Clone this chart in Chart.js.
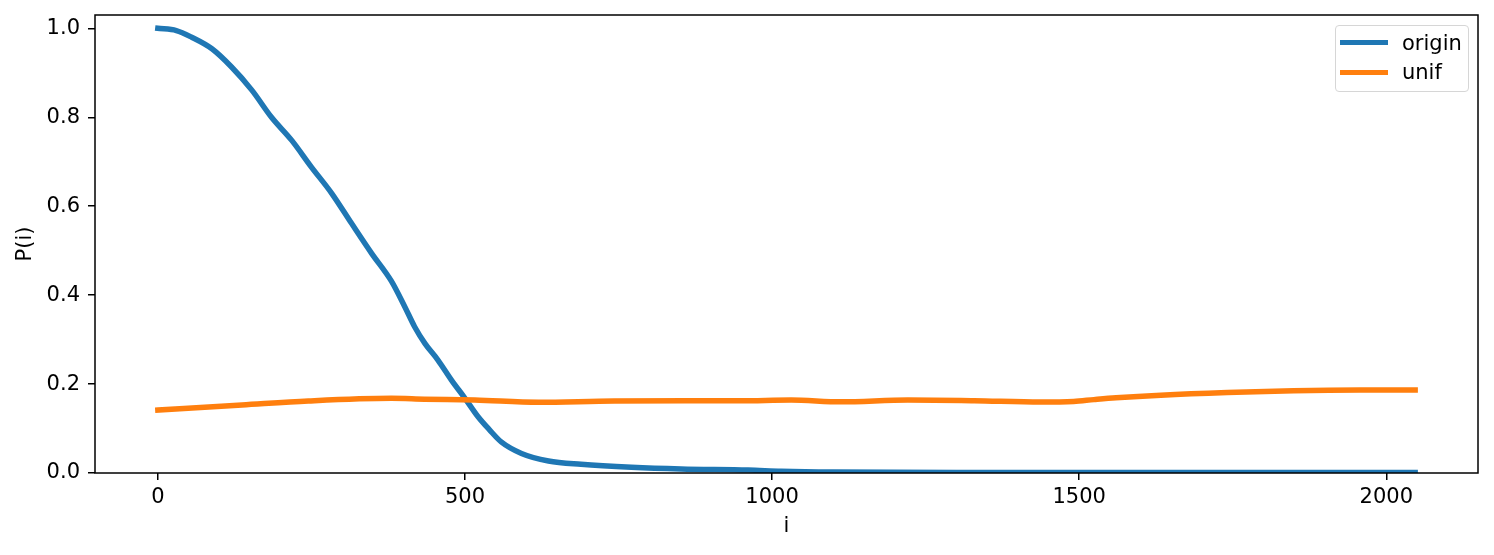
<!DOCTYPE html>
<html>
<head>
<meta charset="utf-8">
<script src="https://cdn.jsdelivr.net/npm/chart.js@4.4.1/dist/chart.umd.min.js"></script>
<style>
  html, body { margin: 0; padding: 0; background: #fff; }
  #wrap { position: relative; width: 1494px; height: 555px; }
  #legend {
    position: absolute; left: 1335px; top: 25px; width: 132px; height: 65px;
    border: 1px solid #d6d6d6; border-radius: 4px; background: rgba(255,255,255,0.8);
    font-family: "DejaVu Sans", sans-serif; font-size: 21px; color: #000;
  }
  .lg-line { position: absolute; left: 4px; width: 48px; height: 5px; }
  .lg-text { position: absolute; left: 66px; line-height: 24px; height: 24px; }
</style>
</head>
<body>
<div id="wrap">
  <canvas id="chart" width="1494" height="555"></canvas>
  <div id="legend"></div>
</div>
<script>
/* ---- Data -------------------------------------------------------------- */

const originX = [0, 30, 55, 88, 120, 153, 185, 218, 250, 283, 315, 348, 380, 402, 418,
  435, 456, 478, 500, 521, 540, 559, 592, 636, 689, 771, 852, 961, 1015, 1100, 1300, 1600, 2047];
const originY = [1.0, 0.995, 0.98, 0.954, 0.913, 0.861, 0.80, 0.748, 0.688, 0.629, 0.562,
  0.494, 0.432, 0.374, 0.329, 0.291, 0.254, 0.209, 0.168, 0.127, 0.097, 0.070, 0.044,
  0.027, 0.0195, 0.0128, 0.009, 0.0067, 0.004, 0.002, 0.001, 0.001, 0.001];

const unifX = [0, 137, 245, 380, 434, 516, 620, 743, 950, 1031, 1112, 1221, 1329, 1437,
  1491, 1524, 1560, 1633, 1741, 1849, 1958, 2047];
const unifY = [0.1416, 0.153, 0.162, 0.168, 0.166, 0.164, 0.159, 0.162, 0.1625, 0.164,
  0.160, 0.164, 0.1625, 0.1596, 0.161, 0.165, 0.169, 0.175, 0.181, 0.185, 0.1865, 0.1865];

const seriesNames = ["origin", "unif"];
const seriesColors = ["#1f77b4", "#ff7f0e"];

const xTicks = [0, 500, 1000, 1500, 2000];
const yTicks = [0.0, 0.2, 0.4, 0.6, 0.8, 1.0];

/* ---- Helpers ------------------------------------------------------------ */

const FONT = { family: "DejaVu Sans", size: 21, lineHeight: 1.2 };

function toPoints(xs, ys) {
  return xs.map((x, i) => ({ x, y: ys[i] }));
}

// no label overhang padding: the plot box is placed by layout.padding alone
function noOverhang(s) {
  s.paddingTop = 0;
  s.paddingBottom = 0;
  s.paddingLeft = 0;
  s.paddingRight = 0;
}

// full black frame round the plot area, like matplotlib's spines
const frame = {
  id: "frame",
  afterDatasetsDraw(chart) {
    const { ctx, chartArea: a } = chart;
    ctx.save();
    ctx.strokeStyle = "#000";
    ctx.lineWidth = 1.5;
    ctx.strokeRect(a.left, a.top, a.right - a.left, a.bottom - a.top);
    ctx.restore();
  },
};

/* ---- Chart -------------------------------------------------------------- */

const ctx = document.getElementById("chart").getContext("2d");

const chart = new Chart(ctx, {
  type: "line",
  data: {
    datasets: [
      {
        label: seriesNames[0],
        data: toPoints(originX, originY),
        borderColor: seriesColors[0],
        order: 1,
      },
      {
        label: seriesNames[1],
        data: toPoints(unifX, unifY),
        borderColor: seriesColors[1],
        order: 0,
      },
    ],
  },
  options: {
    responsive: false,
    animation: false,
    events: [],
    layout: { padding: { left: 0, top: 15, right: 16, bottom: 0 } },
    elements: {
      line: {
        borderWidth: 5.5,
        cubicInterpolationMode: "monotone",
        borderCapStyle: "square",
        fill: false,
      },
      point: { radius: 0 },
    },
    plugins: {
      legend: { display: false },
      tooltip: { enabled: false },
    },
    scales: {
      x: {
        type: "linear",
        min: -102.35,
        max: 2149.35,
        afterBuildTicks: (s) => { s.ticks = xTicks.map((v) => ({ value: v })); },
        afterFit: (s) => { s.height = 82; noOverhang(s); },
        border: { display: false },
        grid: { drawOnChartArea: false, drawTicks: true, tickLength: 7, color: "#000", lineWidth: 1.5 },
        ticks: { color: "#000", font: FONT, padding: 5, maxRotation: 0, callback: (v) => String(v) },
        title: { display: true, text: "i", color: "#000", font: FONT, padding: { top: 0, bottom: 16 } },
      },
      y: {
        type: "linear",
        min: 0,
        max: 1.03,
        afterBuildTicks: (s) => { s.ticks = yTicks.map((v) => ({ value: v })); },
        afterFit: (s) => { s.width = 95; noOverhang(s); },
        border: { display: false },
        grid: { drawOnChartArea: false, drawTicks: true, tickLength: 7, color: "#000", lineWidth: 1.5 },
        ticks: { color: "#000", font: FONT, padding: 8, callback: (v) => v.toFixed(1) },
        title: { display: true, text: "P(i)", color: "#000", font: FONT, padding: { top: 13, bottom: 0 } },
      },
    },
  },
  plugins: [frame],
});

/* ---- Legend (inside the plot, top right) -------------------------------- */

const legendEl = document.getElementById("legend");
const rowCenters = [16.5, 46];
seriesNames.forEach((name, i) => {
  const ds = chart.data.datasets.find((d) => d.label === name);
  const line = document.createElement("div");
  line.className = "lg-line";
  line.style.top = rowCenters[i] - 2.5 + "px";
  line.style.background = ds.borderColor;
  const text = document.createElement("div");
  text.className = "lg-text";
  text.style.top = rowCenters[i] - 12 + "px";
  text.textContent = name;
  legendEl.appendChild(line);
  legendEl.appendChild(text);
});
</script>
</body>
</html>
